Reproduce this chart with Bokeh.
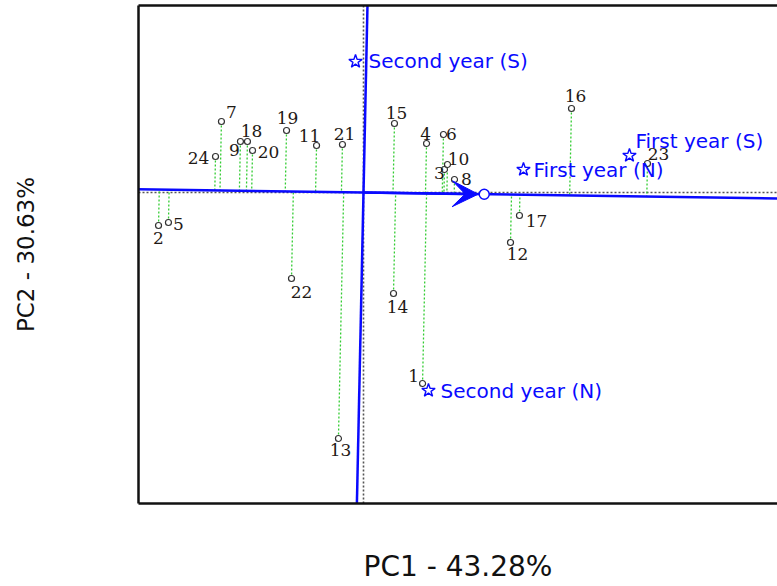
import numpy as np
from bokeh.plotting import figure
from bokeh.models import Range1d, Span, Arrow, VeeHead, LinearAxis, FixedTicker, ColumnDataSource
from bokeh.core.properties import value
from bokeh.embed import file_html
from bokeh.resources import INLINE

# ---- data ----
genotypes = [str(i) for i in range(1, 25)]
gen_pc1 = [0.488, -1.694, 0.669, 0.521, -1.612, 0.661, -1.174, 0.752, -1.017, 0.694,
           -0.388, 1.215, -0.207, 0.248, 0.256, 1.719, 1.289, -0.959, -0.636, -0.917,
           -0.174, -0.595, 2.347, -1.223]
gen_pc2 = [-1.91, -0.33, 0.23, 0.49, -0.30, 0.58, 0.71, 0.13, 0.51, 0.28,
           0.47, -0.50, -2.46, -1.01, 0.69, 0.84, -0.23, 0.51, 0.62, 0.42,
           0.48, -0.86, 0.29, 0.36]

environments = ["First year (N)", "First year (S)", "Second year (N)", "Second year (S)"]
env_pc1 = [1.322, 2.198, 0.537, -0.066]
env_pc2 = [0.23, 0.37, -1.98, 1.31]

x_title = "PC1 - 43.28%"
y_title = "PC2 - 30.63%"

# label placement (screen pixel offsets)
gen_dx = [-9, 0, -5, -1, 10, 8, 10, 12, -6, 11, -7, 7, 2, 4, 2, 4, 17, 4, 1, 16, 2, 10, 11, -17]
gen_dy = [-8, 12, 3, -10, 1, -1, -10, -1, 8, -6, -10, 11, 11, 13, -11, -13, 5, -11, -13, 1, -11, 13, -10, 1]
env_dx = [10, 6, 12, 13]
env_dy = [0, -15, 0, -1]

# ---- derived quantities ----
gx = np.array(gen_pc1)
gy = np.array(gen_pc2)
ax_, ay_ = float(np.mean(env_pc1)), float(np.mean(env_pc2))   # average environment
aa = ax_ * ax_ + ay_ * ay_
t = (gx * ax_ + gy * ay_) / aa
foot_x = t * ax_
foot_y = t * ay_

BLUE = "#0a0aff"
p = figure(width=777, height=586,
           x_range=Range1d(-1.8595, 3.4215), y_range=Range1d(-3.11, 1.87),
           output_backend="svg", toolbar_location=None,
           min_border_left=138, min_border_right=0, min_border_top=5, min_border_bottom=83)
p.grid.visible = False
p.outline_line_color = None
p.background_fill_color = "white"
p.border_fill_color = "white"

def style_axis(a):
    a.ticker = FixedTicker(ticks=[])
    a.major_tick_out = 0
    a.major_tick_in = 0
    a.minor_tick_out = 0
    a.minor_tick_in = 0
    a.major_label_text_font_size = "0px"
    a.axis_line_color = "#111111"
    a.axis_line_width = 2.5

xax = p.below[0]
yax = p.left[0]
style_axis(xax)
style_axis(yax)

xax.axis_label = x_title
xax.axis_label_text_font = "DejaVu Sans"
xax.axis_label_text_font_size = "28px"
xax.axis_label_text_font_style = "normal"
xax.axis_label_text_color = "#111111"
xax.axis_label_standoff = 46

yax.axis_label = y_title
yax.axis_label_text_font = "DejaVu Sans"
yax.axis_label_text_font_size = "23px"
yax.axis_label_text_font_style = "normal"
yax.axis_label_text_color = "#111111"
yax.axis_label_standoff = 100

top = LinearAxis()
style_axis(top)
p.add_layout(top, "above")

# origin dotted lines
for dim in ("width", "height"):
    p.add_layout(Span(location=0, dimension=dim, line_color="#555555",
                      line_dash="2 2", line_width=1.6, level="underlay"))

# projections of genotypes onto the average-environment axis
p.segment(x0=gx, y0=gy, x1=foot_x, y1=foot_y, line_color="#33cc33",
          line_dash="2 2", line_width=1.3)

# average environment axis and its ordinate
K = 10.0
p.segment(x0=[-K * ax_, -K * (-ay_)], y0=[-K * ay_, -K * ax_],
          x1=[K * ax_, K * (-ay_)], y1=[K * ay_, K * ax_],
          line_color=BLUE, line_width=2.5)

p.add_layout(Arrow(end=VeeHead(size=26, fill_color=BLUE, line_color=BLUE),
                   x_start=0, y_start=0, x_end=ax_ * 0.95, y_end=ay_ * 0.95,
                   line_color=BLUE, line_width=2.5))
p.scatter(x=[ax_], y=[ay_], marker="circle", size=10, fill_color="white",
          line_color=BLUE, line_width=1.5)

# genotypes
gsrc = ColumnDataSource(dict(x=gx, y=gy, name=genotypes, dx=gen_dx, dy=gen_dy))
p.scatter(x="x", y="y", source=gsrc, marker="circle", size=6, fill_color="white",
          line_color="#333333", line_width=1.2)
p.text(x="x", y="y", text="name", source=gsrc, x_offset="dx", y_offset="dy",
       text_font=value("DejaVu Serif"), text_font_size=value("17px"),
       text_color="#1f1a16", text_align="center", text_baseline="middle")

# environments
esrc = ColumnDataSource(dict(x=env_pc1, y=env_pc2, name=environments, dx=env_dx, dy=env_dy))
p.scatter(x="x", y="y", source=esrc, marker="star", size=14, fill_color=None,
          line_color=BLUE, line_width=1.4)
p.text(x="x", y="y", text="name", source=esrc, x_offset="dx", y_offset="dy",
       text_font=value("DejaVu Sans"), text_font_size=value("20px"),
       text_color=BLUE, text_align="left", text_baseline="middle")

open("out.html", "w").write(file_html(p, INLINE))
